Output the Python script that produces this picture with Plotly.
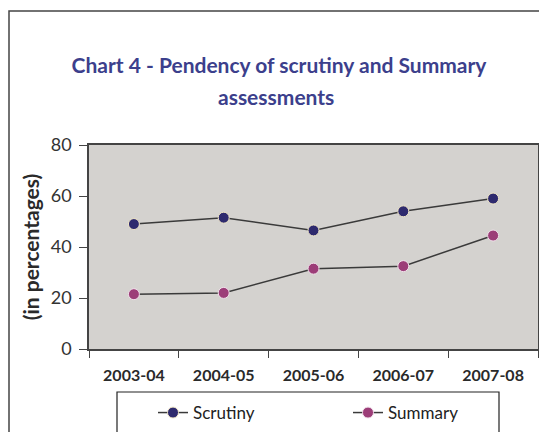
import plotly.graph_objects as go

years = ["2003-04", "2004-05", "2005-06", "2006-07", "2007-08"]
scrutiny = [49, 51.5, 46.5, 54, 59]
summary = [21.5, 22, 31.5, 32.5, 44.5]

# page body has an 8px margin; design in reference pixel coords, shift by OFF
OFF = 8
W, H = 547 - OFF, 432 - OFF
PL, PR, PT, PB = 89, 538, 145, 349  # plot area in reference coords
L, R, T, B = PL - OFF, W - (PR - OFF), PT - OFF, H - (PB - OFF)
pw, ph = W - L - R, H - T - B

def px(x):
    return (x - OFF - L) / pw

def py(y):
    return (H - B - (y - OFF)) / ph

def cx(x):
    return (x - OFF) / W

def cy(y):
    return 1 - (y - OFF) / H

TITLE_COLOR = "#3c3f8c"

fig = go.Figure()
fig.add_trace(go.Scatter(
    x=years, y=scrutiny, name="Scrutiny", mode="lines+markers",
    line=dict(color="#3a3a3a", width=1.5),
    marker=dict(size=11, color="#2e2a6e", line=dict(color="#f2e8c8", width=1)),
))
fig.add_trace(go.Scatter(
    x=years, y=summary, name="Summary", mode="lines+markers",
    line=dict(color="#3a3a3a", width=1.5),
    marker=dict(size=11, color="#9c3d78", line=dict(color="#f0e0ea", width=1)),
))

fig.update_layout(
    width=W, height=H,
    margin=dict(l=L, r=R, t=T, b=B, autoexpand=False),
    paper_bgcolor="white",
    plot_bgcolor="#d4d2cf",
    font=dict(family="Lato, Open Sans, sans-serif", color="#333333"),
    title=dict(
        text="<b>Chart 4 - Pendency of scrutiny and Summary</b>",
        xref="container", x=cx(279), xanchor="center",
        yref="container", y=cy(66), yanchor="middle",
        font=dict(size=21, color=TITLE_COLOR),
    ),
    annotations=[
        dict(text="<b>assessments</b>", xref="paper", yref="paper",
             x=px(276), y=py(97), xanchor="center", yanchor="middle",
             showarrow=False, font=dict(size=21, color=TITLE_COLOR)),
    ],
    showlegend=True,
    legend=dict(
        orientation="h", xref="container", x=cx(153), xanchor="left",
        yref="container", y=cy(413), yanchor="middle",
        font=dict(size=17, color="#222222"), entrywidth=150, entrywidthmode="pixels",
        bgcolor="rgba(0,0,0,0)", borderwidth=0,
    ),
    xaxis=dict(
        type="category", showgrid=False, showline=True, linecolor="#444444", linewidth=1.5,
        ticks="outside", tickson="boundaries", ticklen=7, tickcolor="#444444",
        tickfont=dict(size=16, color="#2a2a2a"), ticklabelstandoff=11,
        mirror=True, range=[-0.5, 4.5], automargin=False,
    ),
    yaxis=dict(
        range=[0, 80], dtick=20, showgrid=False, showline=True, linecolor="#444444",
        linewidth=1.5, ticks="outside", ticklen=8, tickcolor="#444444", mirror=True,
        tickfont=dict(size=18, color="#333333"), zeroline=False, automargin=False,
        ticklabelstandoff=4,
        title=dict(text="<b>(in percentages)</b>", font=dict(size=21, color="#2a2a2a"), standoff=5),
    ),
    shapes=[
        dict(type="rect", xref="paper", yref="paper",
             x0=px(9), x1=px(560), y0=py(11), y1=py(450),
             line=dict(color="#444444", width=1.5), fillcolor="rgba(0,0,0,0)", layer="below"),
        dict(type="rect", xref="paper", yref="paper",
             x0=px(117), x1=px(499), y0=py(392), y1=py(445),
             line=dict(color="#222222", width=1.2), fillcolor="rgba(0,0,0,0)"),
    ],
)
fig.update_xaxes(tickprefix="<b>", ticksuffix="</b>")

fig.write_html("out.html")
